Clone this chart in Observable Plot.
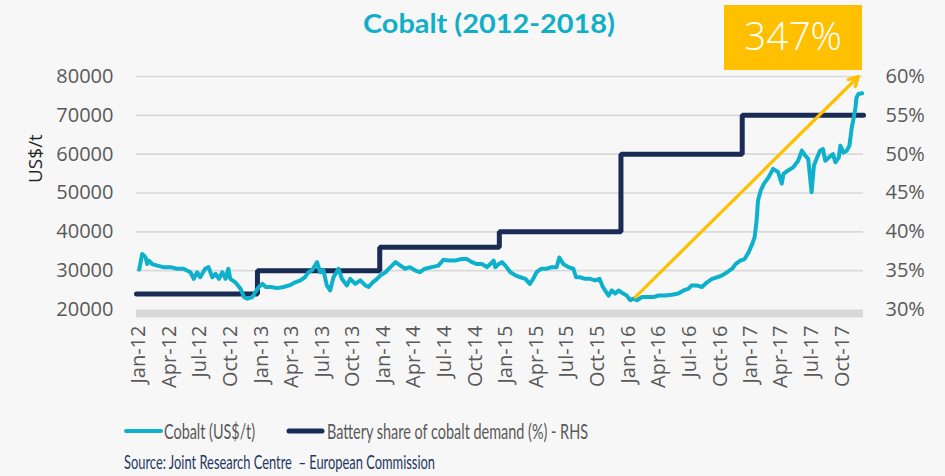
<!DOCTYPE html>
<html><head><meta charset="utf-8">
<script src="https://cdn.jsdelivr.net/npm/d3@7"></script>
<script src="https://cdn.jsdelivr.net/npm/@observablehq/plot@0.6"></script>
<style>
body{margin:0;background:#F7F7F7;}
#chart{width:945px;height:476px;}
</style></head><body><div id="chart"></div>
<script>
const titleText = "Cobalt (2012-2018)";
const yAxisLabel = "US$/t";
const changeLabel = "347%";
const legendLabels = ["Cobalt (US$/t)", "Battery share of cobalt demand (%) - RHS"];
const sourceText = "Source: Joint Research Centre  \u2013 European Commission";

const leftTicks = [20000, 30000, 40000, 50000, 60000, 70000, 80000];
const rightTickLabels = ["30%", "35%", "40%", "45%", "50%", "55%", "60%"];
const xTickLabels = ["Jan-12","Apr-12","Jul-12","Oct-12","Jan-13","Apr-13","Jul-13","Oct-13",
  "Jan-14","Apr-14","Jul-14","Oct-14","Jan-15","Apr-15","Jul-15","Oct-15",
  "Jan-16","Apr-16","Jul-16","Oct-16","Jan-17","Apr-17","Jul-17","Oct-17"];

const cobaltDates = ["2012-01-02","2012-01-11","2012-01-21","2012-01-26","2012-01-30","2012-02-10","2012-02-25","2012-03-14","2012-04-04","2012-04-24",
"2012-05-13","2012-06-03","2012-06-13","2012-06-23","2012-07-02","2012-07-17","2012-07-27","2012-08-07","2012-08-17","2012-08-27",
"2012-09-06","2012-09-16","2012-09-24","2012-09-30","2012-10-15","2012-10-31","2012-11-10","2012-11-20","2012-12-05","2012-12-14",
"2012-12-24","2013-01-04","2013-01-14","2013-01-29","2013-02-17","2013-03-08","2013-03-25","2013-04-12","2013-04-27","2013-05-11",
"2013-05-21","2013-06-01","2013-06-16","2013-06-25","2013-07-05","2013-07-15","2013-07-25","2013-08-04","2013-08-19","2013-08-29",
"2013-09-13","2013-09-23","2013-10-08","2013-10-23","2013-11-07","2013-11-17","2013-11-29","2013-12-12","2013-12-22","2014-01-06",
"2014-01-21","2014-02-05","2014-02-20","2014-03-05","2014-03-20","2014-04-04","2014-04-19","2014-05-04","2014-05-24","2014-06-13",
"2014-06-28","2014-07-12","2014-08-02","2014-08-22","2014-09-06","2014-09-21","2014-10-06","2014-10-21","2014-11-05","2014-11-15",
"2014-11-25","2014-11-30","2014-12-10","2014-12-20","2014-12-30","2015-01-14","2015-01-29","2015-02-13","2015-02-28","2015-03-13",
"2015-03-23","2015-04-02","2015-04-17","2015-05-02","2015-05-17","2015-06-01","2015-06-09","2015-06-21","2015-07-06","2015-07-21",
"2015-07-29","2015-08-10","2015-08-25","2015-09-09","2015-09-24","2015-10-07","2015-10-17","2015-10-27","2015-11-03","2015-11-13",
"2015-11-23","2015-12-03","2015-12-17","2015-12-27","2016-01-07","2016-01-17","2016-01-27","2016-02-11","2016-03-01","2016-03-16",
"2016-03-31","2016-04-20","2016-05-10","2016-05-29","2016-06-14","2016-06-28","2016-07-08","2016-07-23","2016-08-08","2016-08-23",
"2016-09-07","2016-09-22","2016-10-07","2016-10-22","2016-11-06","2016-11-16","2016-11-30","2016-12-13","2016-12-25","2017-01-05",
"2017-01-12","2017-01-18","2017-01-22","2017-01-30","2017-02-09","2017-02-23","2017-03-08","2017-03-23","2017-04-03","2017-04-08",
"2017-04-22","2017-05-07","2017-05-22","2017-06-02","2017-06-12","2017-06-21","2017-07-01","2017-07-08","2017-07-16","2017-07-26",
"2017-08-04","2017-08-11","2017-08-21","2017-09-03","2017-09-10","2017-09-20","2017-09-25","2017-10-04","2017-10-14","2017-10-22",
"2017-10-29","2017-11-04","2017-11-09","2017-11-12","2017-11-18","2017-11-29"];
const cobaltPrices = [30300,34300,33400,31700,32600,31700,31300,30900,30900,30500,
30500,29600,27900,29600,28300,30500,30900,28300,29200,27900,
29600,27900,30500,27900,27000,25300,23200,22800,23200,24500,
25800,26600,25800,25800,25500,25800,26200,27000,27500,28300,
29600,30100,32200,29600,30100,26200,24900,28300,30500,27900,
26200,27900,26600,27500,26200,25800,27000,27900,28800,29600,
30900,32200,31300,30500,30900,30100,29600,30500,30900,31300,
32800,32600,32600,33000,33000,32200,31700,31700,30900,31700,
32600,30900,31700,32200,31300,29600,28800,28300,27900,26600,
27900,29600,30500,30500,30900,30900,33400,31700,30900,30500,
28300,28300,27900,27900,27500,27900,25800,24500,23600,24900,
24100,24900,24100,23600,22400,22800,22400,23200,23200,23200,
23600,23600,23800,24100,24900,25300,26200,26200,25800,27000,
27900,28300,28800,29600,30500,31700,32600,33000,34700,36900,
38600,42900,48000,50600,52400,54100,56200,55400,52400,54900,
55800,56600,58300,60900,59600,58800,50200,57100,58800,60900,
61300,58300,59100,60000,57900,59100,62200,60400,60900,62200,
66900,69500,72000,74600,75500,75700];

const shareDates = ["2011-12-25","2012-12-20","2013-12-20","2014-12-12","2015-12-10","2016-12-06","2017-12-03"];
const shareValues = [32, 35, 38, 40, 50, 55, 55];

const arrowStart = {date: "2016-01-22", price: 23200};
const arrowEnd = {date: "2017-11-18", price: 80000};

const xDomain = ["2011-12-25", "2017-12-03"];

// map right-hand % axis onto the left price scale
const shareToLeft = s => 20000 + (s - 30) * 2000;
const parseTick = d3.utcParse("%b-%y");

const cobalt = cobaltDates.map((d, i) => ({date: new Date(d), price: cobaltPrices[i]}));
const share = shareDates.map((d, i) => ({date: new Date(d), v: shareToLeft(shareValues[i])}));
const xTicks = xTickLabels.map(parseTick);

const TEAL = "#0DB1CB", NAVY = "#1A2B56", GOLD = "#FFC000";

const plot = Plot.plot({
  width: 945, height: 476,
  marginLeft: 136, marginRight: 82, marginTop: 76, marginBottom: 167,
  style: {background: "#F7F7F7", fontFamily: "'Open Sans', sans-serif", fontSize: "20px", color: "#595959", overflow: "visible"},
  x: {type: "utc", domain: xDomain.map(d => new Date(d))},
  y: {domain: [20000, 80000]},
  marks: [
    Plot.gridY(leftTicks.slice(1), {stroke: "#D9D9D9", strokeOpacity: 1, strokeWidth: 1.6}),
    Plot.ruleY([20000], {stroke: "#D9D9D9", strokeWidth: 8, dy: 4}),
    Plot.axisY(leftTicks, {anchor: "left", tickSize: 0, tickPadding: 23, tickFormat: d => String(d), label: null}),
    Plot.axisY(leftTicks, {anchor: "right", tickSize: 0, tickPadding: 22, tickFormat: d => rightTickLabels[leftTicks.indexOf(d)], label: null}),
    Plot.axisX(xTicks, {anchor: "bottom", tickSize: 0, tickPadding: 16, tickRotate: -90, tickFormat: (d, i) => xTickLabels[i], label: null}),
    Plot.line(share, {x: "date", y: "v", curve: "step-after", stroke: NAVY, strokeWidth: 5, strokeLinejoin: "miter"}),
    Plot.line(cobalt, {x: "date", y: "price", stroke: TEAL, strokeWidth: 4, strokeLinejoin: "round", strokeLinecap: "round"}),
    Plot.arrow([{x1: new Date(arrowStart.date), y1: arrowStart.price, x2: new Date(arrowEnd.date), y2: arrowEnd.price}],
      {x1: "x1", y1: "y1", x2: "x2", y2: "y2", stroke: GOLD, strokeWidth: 3.2, headLength: 5, headAngle: 55}),
    Plot.text([yAxisLabel], {frameAnchor: "left", dx: -101, dy: -10, rotate: -90, fill: "#262626", fontSize: 19})
  ]
});

document.getElementById("chart").appendChild(plot);
const svg = d3.select(plot);

// Title
svg.append("text").attr("x", 489).attr("y", 33).attr("text-anchor", "middle")
  .attr("font-family", "Lato, 'Open Sans', sans-serif").attr("font-weight", "bold").attr("font-size", 26)
  .attr("fill", "#10AFC8").attr("textLength", 252).attr("lengthAdjust", "spacingAndGlyphs").text(titleText);

// 347% box
svg.append("rect").attr("x", 724).attr("y", 5).attr("width", 138).attr("height", 65).attr("fill", GOLD);
svg.append("text").attr("x", 793).attr("y", 50).attr("text-anchor", "middle")
  .attr("font-family", "'Open Sans', Lato, sans-serif").attr("font-weight", 300).attr("font-size", 38)
  .attr("fill", "#FFFFFF").attr("textLength", 98).attr("lengthAdjust", "spacingAndGlyphs").text(changeLabel);

// Legend
const legend = svg.append("g").attr("font-family", "Lato, 'Open Sans', sans-serif").attr("font-size", 21)
  .attr("fill", "#595959").attr("text-anchor", "start");
legend.append("line").attr("x1", 126).attr("x2", 161).attr("y1", 431).attr("y2", 431)
  .attr("stroke", TEAL).attr("stroke-width", 4).attr("stroke-linecap", "round");
legend.append("text").attr("x", 164).attr("y", 438.5).attr("text-anchor", "start")
  .attr("textLength", 91).attr("lengthAdjust", "spacingAndGlyphs").text(legendLabels[0]);
legend.append("line").attr("x1", 289).attr("x2", 322).attr("y1", 431).attr("y2", 431)
  .attr("stroke", NAVY).attr("stroke-width", 5).attr("stroke-linecap", "round");
legend.append("text").attr("x", 327).attr("y", 438.5).attr("text-anchor", "start")
  .attr("textLength", 261).attr("lengthAdjust", "spacingAndGlyphs").text(legendLabels[1]);

// Source
svg.append("text").attr("x", 124).attr("y", 468.5).attr("text-anchor", "start")
  .attr("font-family", "Lato, 'Open Sans', sans-serif").attr("font-size", 20)
  .attr("fill", "#1F3864").attr("textLength", 311).attr("lengthAdjust", "spacingAndGlyphs").text(sourceText);
</script>
</body></html>
